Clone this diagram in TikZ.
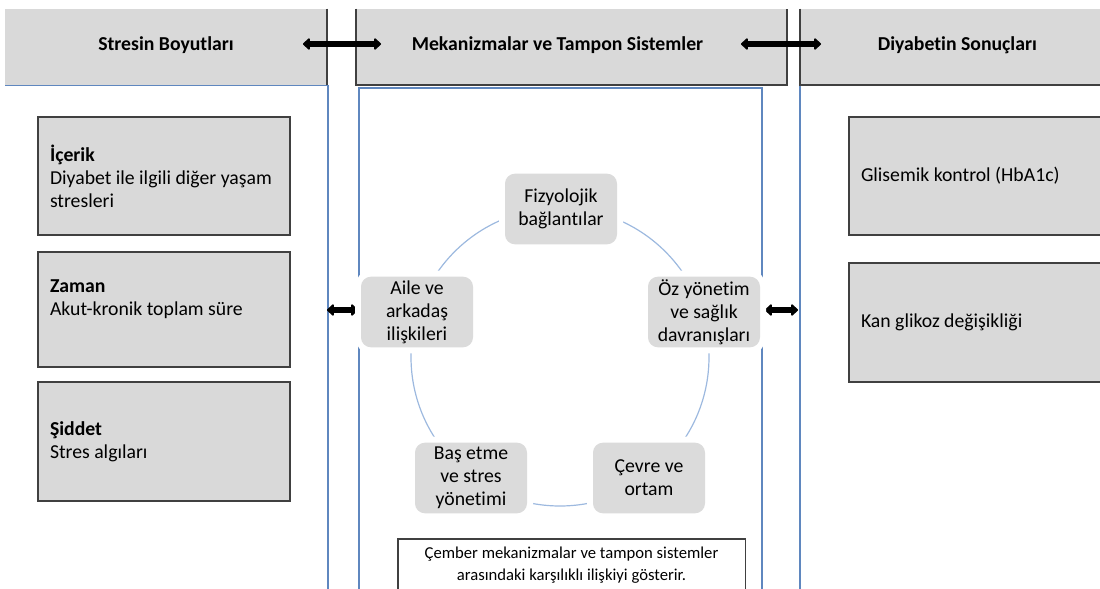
\documentclass[tikz,border=0pt]{standalone}
\usepackage{fontspec}
\setmainfont{Carlito}[Ligatures={NoCommon}]
\usetikzlibrary{arrows.meta}
\definecolor{hdrgray}{HTML}{D9D9D9}
\definecolor{nodegray}{HTML}{DBDBDB}
\definecolor{darkline}{HTML}{404040}
\definecolor{panelblue}{HTML}{5F87BF}
\definecolor{ringblue}{HTML}{9DB9DF}
\begin{document}
\begin{tikzpicture}[x=0.75pt,y=-0.75pt,
  every node/.style={font=\fontsize{14.8pt}{17.25pt}\selectfont, inner sep=0pt},
  hdr/.style={fill=hdrgray, minimum height=57pt, text height=11pt, text depth=6pt,
    font=\fontsize{14.8pt}{17.25pt}\selectfont\bfseries},
  hdrline/.style={draw=darkline, line width=1.4pt},
  panel/.style={draw=panelblue, line width=1pt},
  lbox/.style={draw=darkline, fill=hdrgray, line width=1.1pt, align=flush left, inner xsep=9pt, text width=171pt, minimum width=189pt},
  cnode/.style={fill=nodegray, rounded corners=7.5pt, align=flush center, minimum width=84pt, minimum height=53pt,
    preaction={draw=white, line width=9pt}},
  dblarrow/.style={line width=4.2pt, {Triangle[round,length=5.5pt,width=10pt]}-{Triangle[round,length=5.5pt,width=10pt]}},
  capline/.style={draw=darkline, line width=0.9pt},
  captext/.style={align=flush center, minimum width=260pt, minimum height=39pt,
    font=\fontsize{12.5pt}{16.5pt}\selectfont}
]
\useasboundingbox (0,0) rectangle (1100,589);
\clip (0,0) rectangle (1100,589);

% headers
\node[hdr, minimum width=241.5pt] (hL) at (166,47) {Stresin Boyutları};
\node[hdr, minimum width=323.25pt] (hM) at (571.5,47) {\kern-21pt Mekanizmalar ve Tampon Sistemler};
\node[hdr, minimum width=240pt] (hR) at (960,47) {\kern-4pt Diyabetin Sonuçları};
\draw[hdrline] (hL.north east) -- (hL.south east);
\draw[hdrline] (hM.north west) -- (hM.south west) -- (hM.south east) -- (hM.north east);
\draw[hdrline] (hR.north west) -- (hR.south west) -- (hR.south east);

% panels
\draw[panel] (5,85.5) -- (328,85.5) -- (328,600);
\draw[panel] (359,88) rectangle (762,600);
\draw[panel] (800,86) -- (800,600);

% header arrows
\coordinate (a1l) at (303,44);
\coordinate (a1r) at (381,44);
\coordinate (a2l) at (741,44);
\coordinate (a2r) at (821,44);
\draw[dblarrow] (a1l) -- (a1r);
\draw[dblarrow] (a2l) -- (a2r);

% side arrows
\coordinate (m1l) at (327,310);
\coordinate (m1r) at (358,310);
\coordinate (m2l) at (765,310);
\coordinate (m2r) at (798,310);
\draw[dblarrow] (m1l) -- (m1r);
\draw[dblarrow] (m2l) -- (m2r);

% left boxes
\node[lbox, minimum height=88.5pt] (b1) at (164,176) {\textbf{İçerik}\\Diyabet ile ilgili diğer yaşam\\stresleri};
\node[lbox, minimum height=86.25pt] (b2) at (164,309.5) {\textbf{Zaman}\\Akut-kronik toplam süre\\\mbox{}};
\node[lbox, minimum height=89.25pt] (b3) at (164,441.5) {\textbf{Şiddet}\\Stres algıları};

% right boxes
\node[lbox, text width=174pt, minimum width=192pt, minimum height=88.5pt] (r1) at (977,176) {Glisemik kontrol (HbA1c)};
\node[lbox, text width=174pt, minimum width=192pt, minimum height=89.25pt] (r2) at (977,322.5) {Kan glikoz değişikliği};

% ring
\coordinate (ringc) at (560,357);
\draw[ringblue, line width=0.9pt] (ringc) circle[radius=111.75pt];
\node[cnode] (n1) at (561,209) {Fizyolojik\\bağlantılar};
\node[cnode] (n2) at (704,312) {Öz yönetim\\ve sağlık\\davranışları};
\node[cnode] (n3) at (649,478) {Çevre ve\\ortam};
\node[cnode] (n4) at (471,478) {Baş etme\\ve stres\\yönetimi};
\node[cnode] (n5) at (417,312) {Aile ve\\arkadaş\\ilişkileri};

% caption
\node[captext, anchor=north] (cap) at (571.5,539) {Çember mekanizmalar ve tampon sistemler\\arasındaki karşılıklı ilişkiyi gösterir.};
\draw[capline] (cap.north west) rectangle ([yshift=-20pt]cap.south east);
\end{tikzpicture}
\end{document}
